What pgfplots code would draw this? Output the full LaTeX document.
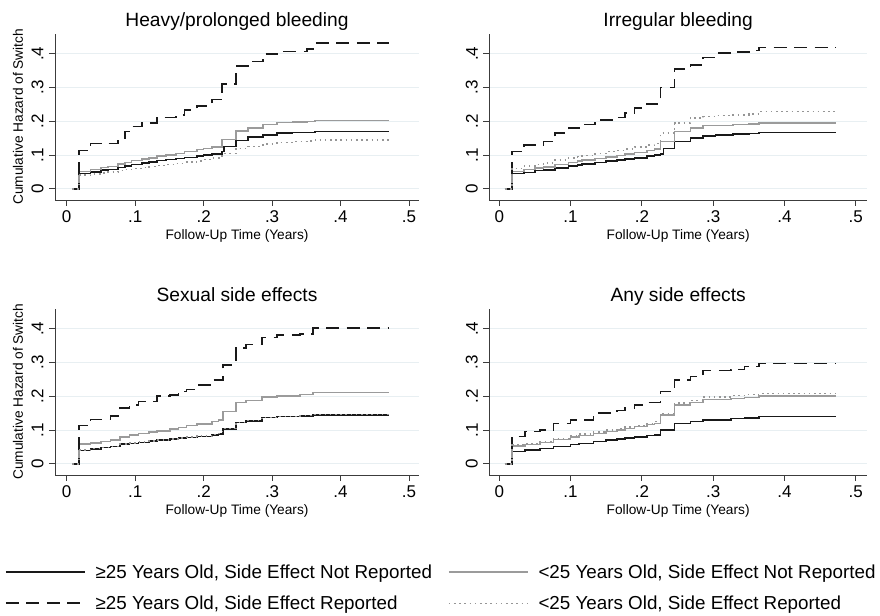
\documentclass[border=0pt]{standalone}
\usepackage{pgfplots}
\pgfplotsset{compat=1.18}
\usepackage{pgfplotstable}
\usepackage{fontspec}
\setmainfont{Liberation Sans}

\definecolor{gridc}{RGB}{232,239,242}
\definecolor{darkline}{RGB}{25,25,25}
\definecolor{grayline}{RGB}{155,155,155}
\definecolor{dotline}{RGB}{150,150,150}
\definecolor{axisc}{RGB}{60,60,60}

% Cumulative hazard of switching, by age group and reported side effect
% t = follow-up time (years)
% a = >=25, not reported; b = >=25, reported; c = <25, not reported; d = <25, reported
\pgfplotstableread{
t     a     b     c     d
0.008 0     0     0     0
0.018 0.046 0.113 0.052 0.041
0.035 0.050 0.135 0.058 0.044
0.050 0.056 0.135 0.064 0.047
0.060 0.058 0.135 0.066 0.050
0.075 0.064 0.150 0.074 0.054
0.085 0.068 0.170 0.078 0.057
0.095 0.072 0.185 0.084 0.060
0.110 0.076 0.195 0.088 0.063
0.120 0.080 0.195 0.092 0.066
0.132 0.084 0.212 0.097 0.069
0.145 0.087 0.212 0.101 0.072
0.160 0.090 0.219 0.105 0.076
0.172 0.093 0.234 0.110 0.079
0.190 0.097 0.246 0.116 0.083
0.200 0.100 0.246 0.119 0.087
0.212 0.104 0.264 0.124 0.092
0.227 0.110 0.310 0.146 0.098
0.230 0.125 0.310 0.146 0.104
0.247 0.143 0.364 0.172 0.120
0.265 0.153 0.377 0.180 0.126
0.287 0.160 0.399 0.190 0.133
0.307 0.165 0.407 0.196 0.137
0.330 0.167 0.407 0.198 0.140
0.351 0.167 0.414 0.200 0.142
0.363 0.170 0.432 0.203 0.145
0.471 0.170 0.432 0.203 0.145
}\heavy

\pgfplotstableread{
t     a     b     c     d
0.008 0     0     0     0
0.018 0.045 0.111 0.051 0.061
0.035 0.049 0.130 0.057 0.068
0.050 0.054 0.130 0.062 0.073
0.062 0.056 0.140 0.065 0.077
0.078 0.062 0.165 0.072 0.085
0.097 0.067 0.180 0.078 0.091
0.110 0.071 0.180 0.082 0.095
0.116 0.073 0.190 0.085 0.098
0.134 0.078 0.204 0.090 0.104
0.150 0.082 0.204 0.095 0.110
0.165 0.085 0.212 0.099 0.114
0.176 0.088 0.224 0.103 0.118
0.190 0.092 0.239 0.108 0.124
0.207 0.097 0.252 0.114 0.130
0.218 0.101 0.252 0.118 0.135
0.226 0.104 0.301 0.140 0.165
0.230 0.120 0.301 0.140 0.165
0.246 0.140 0.355 0.170 0.195
0.268 0.150 0.367 0.180 0.210
0.286 0.157 0.389 0.187 0.214
0.303 0.160 0.402 0.188 0.217
0.328 0.162 0.405 0.190 0.219
0.350 0.164 0.410 0.192 0.222
0.364 0.167 0.419 0.195 0.229
0.472 0.167 0.419 0.195 0.229
}\irregular

\pgfplotstableread{
t     a     b     c     d
0.008 0     0     0     0
0.018 0.040 0.113 0.059 0.041
0.035 0.044 0.132 0.062 0.045
0.050 0.049 0.132 0.066 0.049
0.064 0.052 0.142 0.070 0.052
0.078 0.059 0.165 0.080 0.059
0.092 0.061 0.175 0.086 0.062
0.105 0.064 0.185 0.090 0.065
0.120 0.067 0.185 0.094 0.068
0.132 0.070 0.201 0.098 0.071
0.151 0.073 0.204 0.104 0.074
0.163 0.076 0.214 0.108 0.077
0.175 0.078 0.221 0.113 0.079
0.190 0.081 0.234 0.118 0.082
0.212 0.086 0.249 0.125 0.087
0.222 0.089 0.249 0.130 0.090
0.228 0.104 0.293 0.155 0.105
0.247 0.122 0.343 0.182 0.123
0.262 0.127 0.353 0.188 0.128
0.285 0.137 0.375 0.198 0.138
0.307 0.140 0.382 0.201 0.141
0.341 0.142 0.385 0.205 0.143
0.360 0.145 0.402 0.211 0.146
0.471 0.145 0.402 0.211 0.146
}\sexual

\pgfplotstableread{
t     a     b     c     d
0.008 0     0     0     0
0.018 0.037 0.081 0.053 0.056
0.036 0.041 0.096 0.058 0.061
0.057 0.046 0.100 0.064 0.067
0.076 0.052 0.120 0.072 0.075
0.100 0.058 0.130 0.080 0.083
0.112 0.061 0.130 0.084 0.088
0.132 0.066 0.150 0.090 0.094
0.150 0.070 0.150 0.096 0.100
0.165 0.073 0.158 0.101 0.105
0.176 0.076 0.165 0.105 0.109
0.190 0.080 0.175 0.110 0.114
0.207 0.084 0.182 0.116 0.120
0.218 0.086 0.182 0.120 0.125
0.226 0.100 0.214 0.145 0.150
0.246 0.119 0.249 0.175 0.180
0.268 0.125 0.259 0.182 0.188
0.286 0.130 0.277 0.190 0.198
0.325 0.134 0.280 0.194 0.202
0.344 0.136 0.288 0.197 0.205
0.364 0.140 0.298 0.201 0.209
0.472 0.140 0.298 0.201 0.209
}\anyeff

\pgfplotsset{
  hazpanel/.style={
    scale only axis,
    anchor=south west,
    height=166.4bp,
    ymin=-0.033, ymax=0.46,
    axis lines=left,
    axis line style={-, axisc, line width=0.8bp},
    xtick={0,0.1,0.2,0.3,0.4,0.5},
    xticklabels={0,.1,.2,.3,.4,.5},
    ytick={0,0.1,0.2,0.3,0.4},
    yticklabels={0,.1,.2,.3,.4},
    tick align=outside,
    major tick length=6bp,
    tick style={axisc, line width=0.8bp},
    ymajorgrids,
    grid style={gridc, line width=1.2bp},
    /pgf/number format/assume math mode=true,
    ticklabel style={font=\fontsize{17bp}{20bp}\selectfont},
    xticklabel style={yshift=-1bp},
    yticklabel style={rotate=90, anchor=south, yshift=2bp},
    xlabel={Follow-Up Time (Years)},
    every axis x label/.style={at={(axis description cs:0.5,-0.2395)}, anchor=base,
      font=\fontsize{13.7bp}{16bp}\selectfont},
    every axis title/.style={at={(axis description cs:0.5,1.045)}, anchor=base,
      font=\fontsize{19.2bp}{22bp}\selectfont},
    const plot,
  },
  left panel/.style={
    width=364bp, xmin=-0.0171, xmax=0.5146,
    ylabel={Cumulative Hazard of Switch},
    every axis y label/.style={at={(axis description cs:-0.1016,0.5)}, rotate=90,
      anchor=center, font=\fontsize{13.7bp}{16bp}\selectfont},
  },
  right panel/.style={
    width=377.7bp, xmin=-0.014, xmax=0.5158,
  },
  s25no/.style={darkline, line width=1.5bp},
  s25yes/.style={darkline, line width=1.5bp, dash pattern=on 13bp off 7.5bp},
  u25no/.style={grayline, line width=1.5bp},
  u25yes/.style={dotline, line width=1.4bp, dash pattern=on 1.6bp off 3.6bp},
}

\begin{document}
\begin{tikzpicture}
\useasboundingbox (0,0) rectangle (880bp,616bp);

% Heavy/prolonged bleeding
\begin{axis}[hazpanel, left panel, at={(55bp,416bp)}, title={Heavy/prolonged bleeding}]
  \addplot[s25no]  table[x=t, y=a] {\heavy};
  \addplot[u25no]  table[x=t, y=c] {\heavy};
  \addplot[s25yes] table[x=t, y=b] {\heavy};
  \addplot[u25yes] table[x=t, y=d] {\heavy};
\end{axis}

% Irregular bleeding
\begin{axis}[hazpanel, right panel, at={(489.3bp,416bp)}, title={Irregular bleeding}]
  \addplot[s25no]  table[x=t, y=a] {\irregular};
  \addplot[u25no]  table[x=t, y=c] {\irregular};
  \addplot[s25yes] table[x=t, y=b] {\irregular};
  \addplot[u25yes] table[x=t, y=d] {\irregular};
\end{axis}

% Sexual side effects (carries the shared legend)
\begin{axis}[hazpanel, left panel, at={(55bp,141bp)}, title={Sexual side effects},
  legend columns=2,
  legend cell align=left,
  legend image code/.code={\draw[#1] (0bp,0bp) -- (79bp,0bp); \path (86bp,0bp);},
  legend style={at={(axis description cs:-0.137,-0.52)}, anchor=north west,
    draw=none, fill=none, inner sep=0pt, outer sep=0pt,
    font=\fontsize{18.8bp}{22bp}\selectfont,
    row sep=10bp,
    nodes={inner sep=3bp},
    /tikz/every even column/.append style={column sep=13bp}},
]
  \addplot[s25no]  table[x=t, y=a] {\sexual};
  \addlegendentry{≥25 Years Old, Side Effect Not Reported}
  \addplot[u25no]  table[x=t, y=c] {\sexual};
  \addlegendentry{<25 Years Old, Side Effect Not Reported}
  \addplot[s25yes] table[x=t, y=b] {\sexual};
  \addlegendentry{≥25 Years Old, Side Effect Reported}
  \addplot[u25yes] table[x=t, y=d] {\sexual};
  \addlegendentry{<25 Years Old, Side Effect Reported}
\end{axis}

% Any side effects
\begin{axis}[hazpanel, right panel, at={(489.3bp,141bp)}, title={Any side effects}]
  \addplot[s25no]  table[x=t, y=a] {\anyeff};
  \addplot[u25no]  table[x=t, y=c] {\anyeff};
  \addplot[s25yes] table[x=t, y=b] {\anyeff};
  \addplot[u25yes] table[x=t, y=d] {\anyeff};
\end{axis}
\end{tikzpicture}
\end{document}
